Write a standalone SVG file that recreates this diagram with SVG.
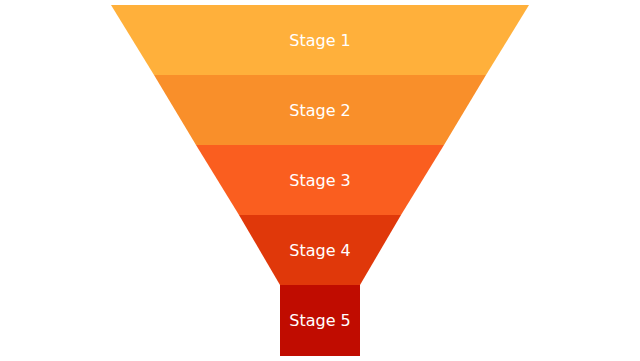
<svg xmlns="http://www.w3.org/2000/svg" width="640" height="361" viewBox="0 0 640 361">
  <style>
    .lbl { font-family: "DejaVu Sans", Verdana, sans-serif; font-size: 16px; fill: #ffffff; text-anchor: middle; }
  </style>
  <rect width="640" height="361" fill="#ffffff"/>
  <g id="stage1">
    <polygon points="111,5 529,5 486,75 154,75" fill="#FFB03B"/>
    <text class="lbl" x="320" y="46">Stage 1</text>
  </g>
  <g id="stage2">
    <polygon points="154,75 486,75 444,145 196,145" fill="#F98F2A"/>
    <text class="lbl" x="320" y="116">Stage 2</text>
  </g>
  <g id="stage3">
    <polygon points="196,145 444,145 401,215 239,215" fill="#FA5E1F"/>
    <text class="lbl" x="320" y="186">Stage 3</text>
  </g>
  <g id="stage4">
    <polygon points="239,215 401,215 360,285 280,285" fill="#E0380A"/>
    <text class="lbl" x="320" y="256">Stage 4</text>
  </g>
  <g id="stage5">
    <rect x="280" y="285" width="80" height="71" fill="#C00C00"/>
    <text class="lbl" x="320" y="326">Stage 5</text>
  </g>
  <g id="connectors"></g>
</svg>
